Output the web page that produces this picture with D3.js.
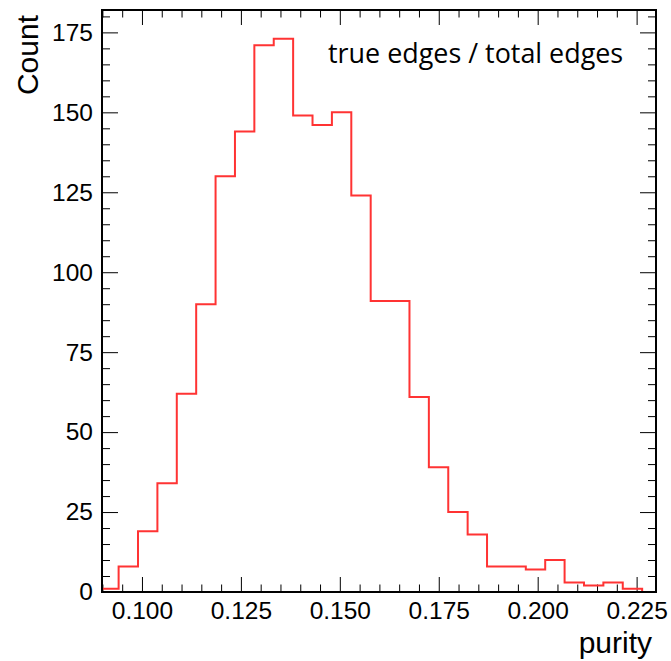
<!DOCTYPE html>
<html>
<head>
<meta charset="utf-8">
<script src="https://cdn.jsdelivr.net/npm/d3@7"></script>
<style>
  html, body { margin: 0; padding: 0; background: #fff; }
  svg { display: block; }
</style>
</head>
<body>
<svg id="chart" width="671" height="661"></svg>
<script>
// ---- data ----
const binStart = 0.0892;
const binWidth = 0.0049;
const counts = [1, 8, 19, 34, 62, 90, 130, 144, 171, 173, 149, 146, 150, 124, 91, 91,
                61, 39, 25, 18, 8, 8, 7, 10, 3, 2, 3, 1];
const xDomain = [0.0899, 0.2299];
const yDomain = [0, 182];
const xMajorTicks = [0.100, 0.125, 0.150, 0.175, 0.200, 0.225];
const xTickLabels = ["0.100", "0.125", "0.150", "0.175", "0.200", "0.225"];
const xMinorTicks = [0.090, 0.095, 0.105, 0.110, 0.115, 0.120, 0.130, 0.135, 0.140, 0.145,
                     0.155, 0.160, 0.165, 0.170, 0.180, 0.185, 0.190, 0.195,
                     0.205, 0.210, 0.215, 0.220];
const yMajorTicks = [0, 25, 50, 75, 100, 125, 150, 175];
const yMinorTicks = [5, 10, 15, 20, 30, 35, 40, 45, 55, 60, 65, 70, 80, 85, 90, 95,
                     105, 110, 115, 120, 130, 135, 140, 145, 155, 160, 165, 170, 180];
const xTitle = "purity";
const yTitle = "Count";
const annotation = "true edges / total edges";

// ---- layout ----
const L = 102, R = 656, T = 10, B = 592;
const svg = d3.select("#chart");
const x = d3.scaleLinear().domain(xDomain).range([L, R]);
const y = d3.scaleLinear().domain(yDomain).range([B, T]);

const tickFont = "'Liberation Sans', Arial, Helvetica, sans-serif";

function styleAxis(g) {
  g.select(".domain").remove();
  g.selectAll(".tick line").attr("stroke", "#000").attr("stroke-width", 1);
  g.selectAll(".tick text").attr("fill", "#000")
    .style("font-family", tickFont).style("font-size", "24.5px");
}

// bottom axis
svg.append("g").attr("transform", `translate(0,${B})`)
  .call(d3.axisBottom(x).tickValues(xMajorTicks).tickSize(-15).tickPadding(10)
        .tickFormat((d, i) => xTickLabels[i]))
  .call(styleAxis);
svg.append("g").attr("transform", `translate(0,${B})`)
  .call(d3.axisBottom(x).tickValues(xMinorTicks).tickSize(-7.5).tickFormat(""))
  .call(styleAxis);
// top axis (mirror)
svg.append("g").attr("transform", `translate(0,${T})`)
  .call(d3.axisTop(x).tickValues(xMajorTicks).tickSize(-15).tickFormat(""))
  .call(styleAxis);
svg.append("g").attr("transform", `translate(0,${T})`)
  .call(d3.axisTop(x).tickValues(xMinorTicks).tickSize(-7.5).tickFormat(""))
  .call(styleAxis);
// left axis
svg.append("g").attr("transform", `translate(${L},0)`)
  .call(d3.axisLeft(y).tickValues(yMajorTicks).tickSize(-16).tickPadding(9)
        .tickFormat(d3.format("d")))
  .call(styleAxis);
svg.append("g").attr("transform", `translate(${L},0)`)
  .call(d3.axisLeft(y).tickValues(yMinorTicks).tickSize(-8).tickFormat(""))
  .call(styleAxis);
// right axis (mirror)
svg.append("g").attr("transform", `translate(${R},0)`)
  .call(d3.axisRight(y).tickValues(yMajorTicks).tickSize(-16).tickFormat(""))
  .call(styleAxis);
svg.append("g").attr("transform", `translate(${R},0)`)
  .call(d3.axisRight(y).tickValues(yMinorTicks).tickSize(-8).tickFormat(""))
  .call(styleAxis);

// histogram outline
svg.append("clipPath").attr("id", "frameClip")
  .append("rect").attr("x", L).attr("y", T).attr("width", R - L).attr("height", B - T);

const pts = [];
counts.forEach((c, i) => {
  const x0 = binStart + i * binWidth;
  const x1 = x0 + binWidth;
  pts.push([x(x0), y(c)]);
  pts.push([x(x1), y(c)]);
});
const lastEdge = binStart + counts.length * binWidth;
pts.push([x(lastEdge), y(0)]);

svg.append("path")
  .attr("clip-path", "url(#frameClip)")
  .attr("d", d3.line()(pts))
  .attr("fill", "none")
  .attr("stroke", "#ff3333")
  .attr("stroke-width", 2);

// frame
svg.append("rect")
  .attr("x", L).attr("y", T).attr("width", R - L).attr("height", B - T)
  .attr("fill", "none").attr("stroke", "#000").attr("stroke-width", 2);

// titles
svg.append("text")
  .attr("x", 652).attr("y", 653)
  .attr("text-anchor", "end")
  .style("font-family", tickFont).style("font-size", "30px")
  .text(xTitle);

svg.append("text")
  .attr("transform", "translate(38,15) rotate(-90)")
  .attr("text-anchor", "end")
  .style("font-family", tickFont).style("font-size", "30px")
  .text(yTitle);

svg.append("text")
  .attr("x", 328).attr("y", 63.3)
  .style("font-family", "'Open Sans', 'Noto Sans', sans-serif").style("font-size", "26.9px")
  .text(annotation);
</script>
</body>
</html>
